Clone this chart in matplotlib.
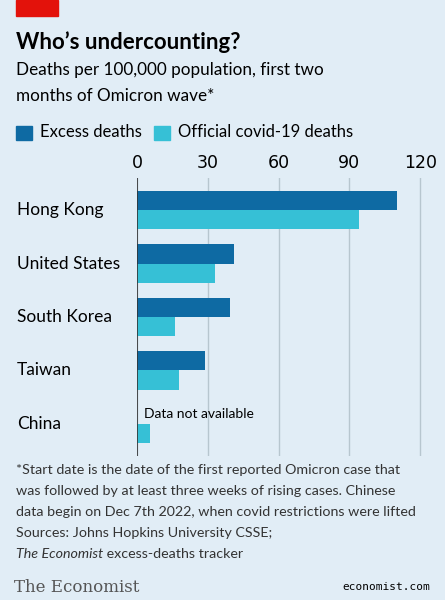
import matplotlib
matplotlib.use("Agg")
import matplotlib.pyplot as plt
import numpy as np

countries = ["Hong Kong", "United States", "South Korea", "Taiwan", "China"]
excess = [110, 41, 39.5, 29, np.nan]
official = [94, 33, 16, 18, 5.5]
ticks = [0, 30, 60, 90, 120]

bg = "#e1edf6"
dark = "#0e6aa3"
cyan = "#36c0d6"
W, H = 445, 600
fig = plt.figure(figsize=(W/100, H/100), dpi=100, facecolor=bg)

fig.patches.append(plt.Rectangle((16/W, 1-16/H), 42/W, 16/H, transform=fig.transFigure, color="#e3120b"))
fig.text(16/W, 1-42/H, "Who’s undercounting?", fontsize=16, fontweight="bold", va="center", family="Lato")
fig.text(16/W, 1-70/H, "Deaths per 100,000 population, first two", fontsize=12.3, va="center", family="Lato")
fig.text(16/W, 1-96/H, "months of Omicron wave*", fontsize=12.3, va="center", family="Lato")
fig.patches.append(plt.Rectangle((16/W, 1-140/H), 16/W, 14/H, transform=fig.transFigure, color=dark))
fig.text(40/W, 1-132/H, "Excess deaths", fontsize=12, va="center", family="Lato")
fig.patches.append(plt.Rectangle((154/W, 1-140/H), 16/W, 14/H, transform=fig.transFigure, color=cyan))
fig.text(178/W, 1-132/H, "Official covid-19 deaths", fontsize=12, va="center", family="Lato")

ax = fig.add_axes([137/W, 1-456/H, (432-137)/W, (456-178)/H], facecolor=bg)
y = np.arange(len(countries))
h = 0.36
ax.barh(y - h/2, excess, height=h, color=dark)
ax.barh(y + h/2, official, height=h, color=cyan)
ax.set_ylim(len(countries) - 0.4, -0.6)
ax.set_xlim(0, 125)
ax.set_xticks(ticks)
ax.xaxis.tick_top()
ax.tick_params(axis="x", length=0, labelsize=12.5, pad=4)
ax.set_yticks(y)
ax.set_yticklabels([])
ax.tick_params(axis="y", length=0)
for yi, c in zip(y, countries):
    ax.text(-120/295*125, yi, c, fontsize=12.5, va="center", ha="left", family="Lato", clip_on=False)
ax.grid(axis="x", color="#b7c6cf", lw=1)
ax.set_axisbelow(True)
for s in ax.spines.values():
    s.set_visible(False)
ax.axvline(0, color="#333333", lw=1.2)
ax.text(3, 4 - 0.18, "Data not available", fontsize=10, va="center", family="Lato")

foot = ["*Start date is the date of the first reported Omicron case that",
        "was followed by at least three weeks of rising cases. Chinese",
        "data begin on Dec 7th 2022, when covid restrictions were lifted",
        "Sources: Johns Hopkins University CSSE;"]
for i, t in enumerate(foot):
    fig.text(16/W, 1-(470+21*i)/H, t, fontsize=10.3, va="center", color="#333333", family="Lato")
t1 = fig.text(16/W, 1-554/H, "The Economist", fontsize=10.3, style="italic", va="center", color="#333333", family="Lato")
fig.canvas.draw()
bb = t1.get_window_extent()
fig.text(bb.x1/W, 1-554/H, " excess-deaths tracker", fontsize=10.3, va="center", color="#333333", family="Lato")
fig.text(14/W, 1-587/H, "The Economist", fontsize=12, family="serif", va="center", color="#555555")
fig.text(430/W, 1-587/H, "economist.com", fontsize=8, family="monospace", ha="right", va="center")
fig.savefig("out.png", dpi=100, facecolor=bg)
